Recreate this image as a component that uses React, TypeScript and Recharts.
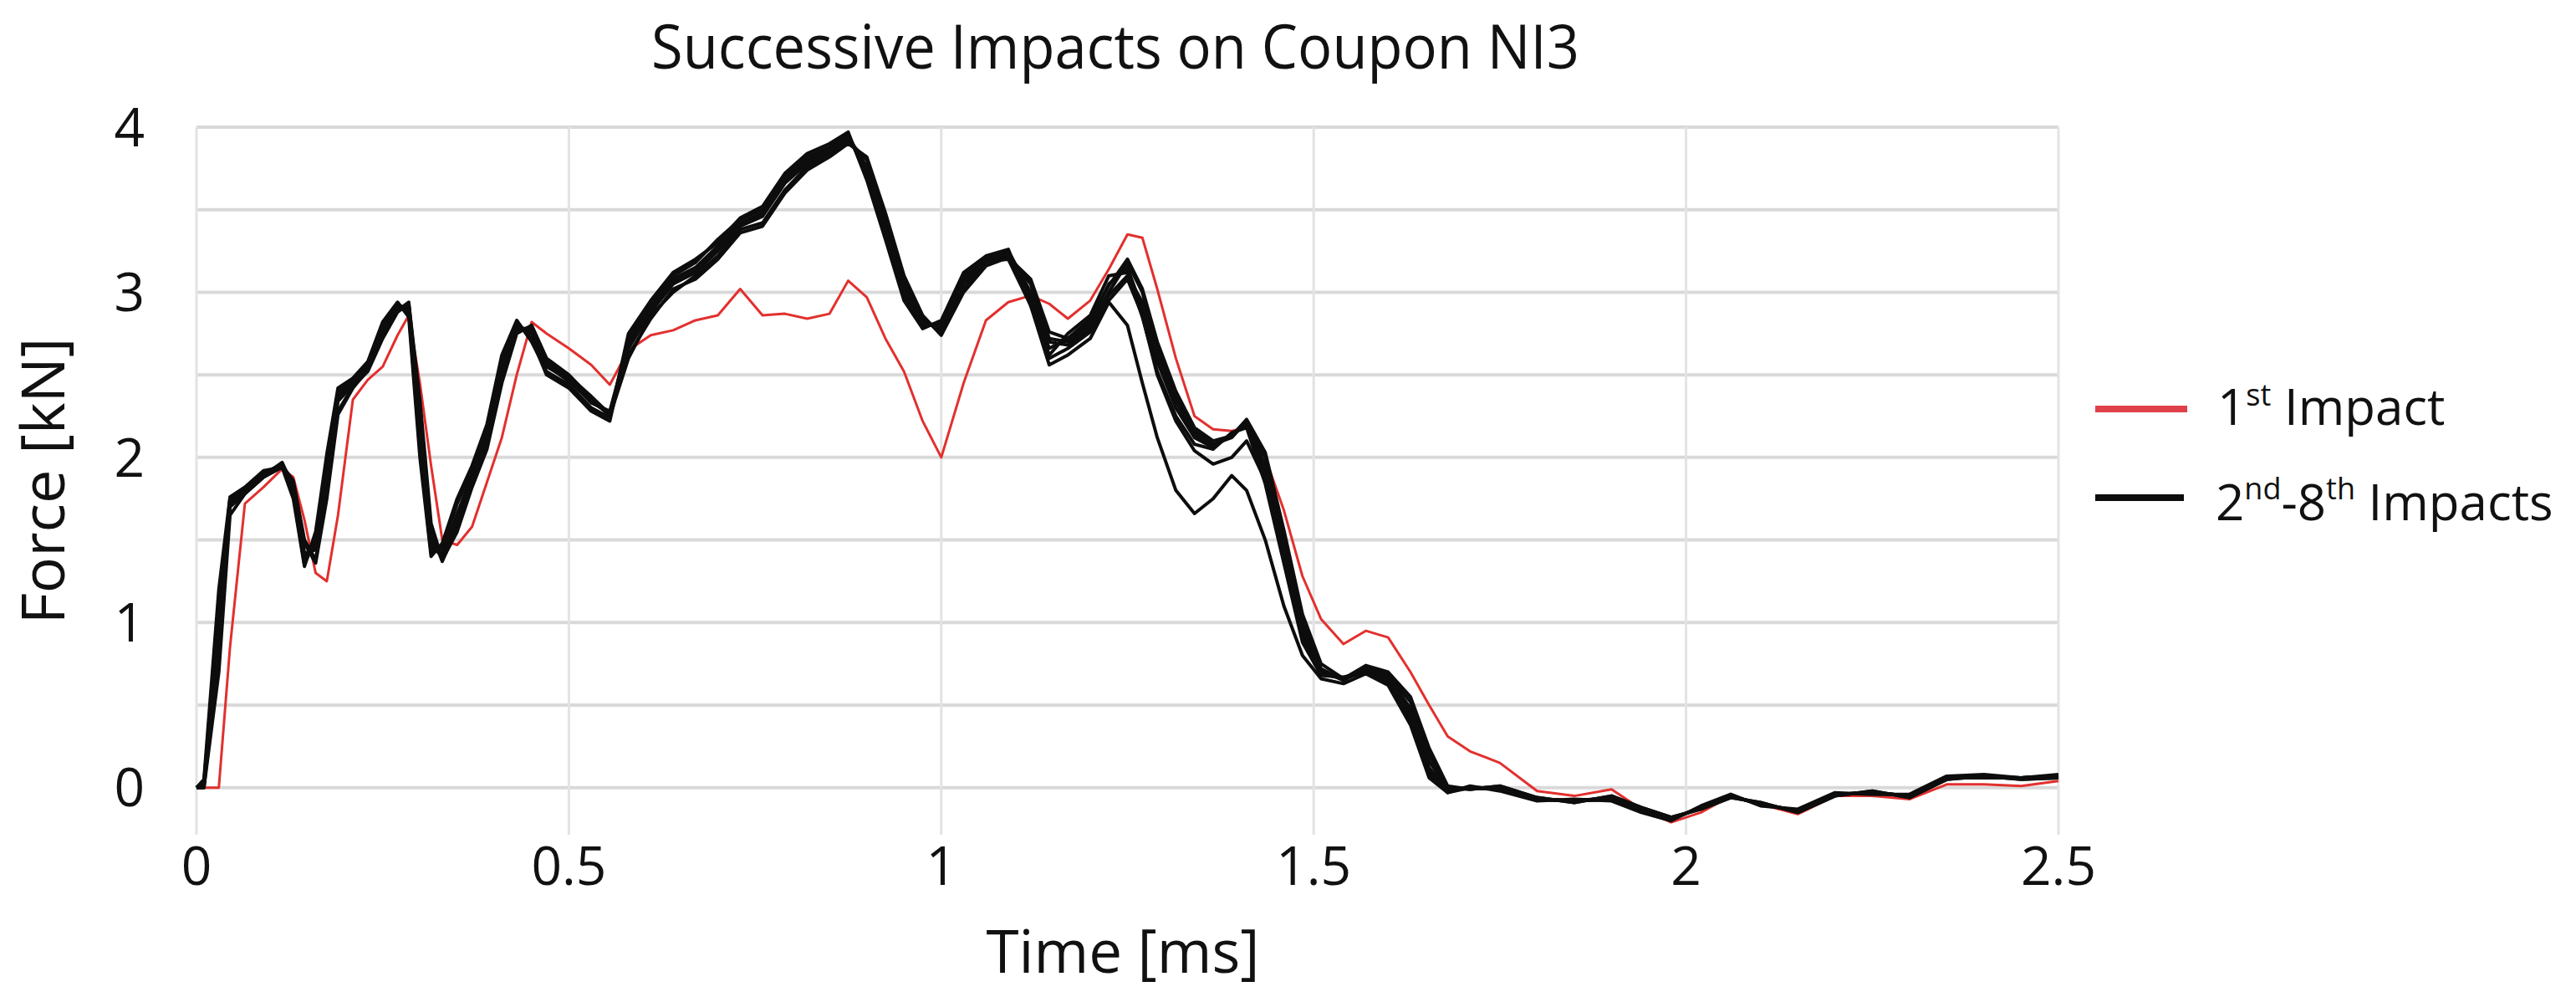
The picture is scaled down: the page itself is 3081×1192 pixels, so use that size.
import React from 'react';
import { LineChart, Line, XAxis, YAxis, CartesianGrid, Legend, Customized } from 'recharts';

// Sample times (ms) shared by every impact trace
const timeMs = [
  0, 0.01, 0.03, 0.045, 0.065, 0.09, 0.115, 0.13, 0.145, 0.16,
  0.175, 0.19, 0.21, 0.23, 0.25, 0.27, 0.285, 0.3, 0.315, 0.33,
  0.35, 0.37, 0.39, 0.41, 0.43, 0.45, 0.47, 0.5, 0.53, 0.555,
  0.58, 0.61, 0.64, 0.67, 0.7, 0.73, 0.76, 0.79, 0.82, 0.85,
  0.875, 0.9, 0.925, 0.95, 0.975, 1.0, 1.03, 1.06, 1.09, 1.12,
  1.145, 1.17, 1.2, 1.225, 1.25, 1.27, 1.29, 1.315, 1.34, 1.365,
  1.39, 1.41, 1.435, 1.46, 1.485, 1.51, 1.54, 1.57, 1.6, 1.63,
  1.655, 1.68, 1.71, 1.75, 1.8, 1.85, 1.9, 1.94, 1.98, 2.02,
  2.06, 2.1, 2.15, 2.2, 2.25, 2.3, 2.35, 2.4, 2.45, 2.5,
];

// Force (kN), first impact
const impact1 = [
  0, 0, 0, 0.85, 1.72, 1.82, 1.93, 1.88, 1.62, 1.3,
  1.25, 1.65, 2.35, 2.47, 2.55, 2.74, 2.86, 2.45, 1.95, 1.5,
  1.47, 1.58, 1.85, 2.12, 2.5, 2.82, 2.75, 2.66, 2.56, 2.44,
  2.65, 2.74, 2.77, 2.83, 2.86, 3.02, 2.86, 2.87, 2.84, 2.87,
  3.07, 2.97, 2.72, 2.52, 2.22, 2.0, 2.45, 2.83, 2.94, 2.98,
  2.93, 2.84, 2.95, 3.14, 3.35, 3.33, 3.02, 2.6, 2.25, 2.17,
  2.16, 2.18, 2.0, 1.68, 1.28, 1.02, 0.87, 0.95, 0.91, 0.7,
  0.5, 0.31, 0.22, 0.15, -0.02, -0.05, -0.01, -0.13, -0.21, -0.15,
  -0.05, -0.1, -0.16, -0.05, -0.05, -0.07, 0.02, 0.02, 0.01, 0.04,
];

// Force (kN), impacts 2 to 8
const impact2 = [
  0, 0.02, 1.05, 1.74, 1.8, 1.9, 1.96, 1.8, 1.36, 1.5,
  1.95, 2.38, 2.45, 2.55, 2.78, 2.92, 2.9, 2.1, 1.45, 1.42,
  1.65, 1.9, 2.12, 2.55, 2.8, 2.75, 2.55, 2.47, 2.33, 2.28,
  2.7, 2.9, 3.08, 3.15, 3.28, 3.42, 3.48, 3.68, 3.8, 3.87,
  3.95, 3.72, 3.38, 3.0, 2.8, 2.8, 3.08, 3.2, 3.24, 2.97,
  2.66, 2.72, 2.82, 3.05, 3.15, 2.9, 2.58, 2.3, 2.12, 2.06,
  2.14, 2.2, 1.9, 1.42, 0.92, 0.7, 0.66, 0.71, 0.66, 0.45,
  0.12, -0.02, 0.0, -0.01, -0.07, -0.08, -0.07, -0.14, -0.19, -0.12,
  -0.05, -0.1, -0.14, -0.04, -0.03, -0.05, 0.06, 0.06, 0.06, 0.07,
];
const impact3 = [
  0, 0, 0.7, 1.65, 1.78, 1.88, 1.95, 1.86, 1.5, 1.38,
  1.8, 2.28, 2.43, 2.52, 2.72, 2.88, 2.93, 2.35, 1.6, 1.38,
  1.55, 1.82, 2.05, 2.45, 2.75, 2.8, 2.6, 2.5, 2.36, 2.25,
  2.6, 2.86, 3.0, 3.1, 3.22, 3.38, 3.42, 3.62, 3.76, 3.84,
  3.92, 3.8, 3.45, 3.08, 2.84, 2.76, 3.02, 3.18, 3.22, 3.05,
  2.72, 2.7, 2.8, 3.0, 3.18, 3.0, 2.66, 2.38, 2.16, 2.08,
  2.12, 2.22, 2.0, 1.52, 1.0, 0.72, 0.65, 0.73, 0.68, 0.52,
  0.2, 0.0, -0.01, 0.01, -0.06, -0.09, -0.05, -0.12, -0.18, -0.13,
  -0.06, -0.09, -0.15, -0.05, -0.02, -0.06, 0.05, 0.07, 0.05, 0.06,
];
const impact4 = [
  0, 0.05, 1.2, 1.76, 1.82, 1.92, 1.94, 1.75, 1.34, 1.55,
  2.02, 2.42, 2.48, 2.58, 2.82, 2.94, 2.85, 2.0, 1.4, 1.48,
  1.75, 1.95, 2.2, 2.62, 2.83, 2.7, 2.52, 2.44, 2.3, 2.24,
  2.75, 2.95, 3.12, 3.2, 3.3, 3.45, 3.52, 3.72, 3.84, 3.9,
  3.97, 3.68, 3.32, 2.95, 2.78, 2.83, 3.12, 3.22, 3.26, 2.92,
  2.62, 2.75, 2.86, 3.1, 3.12, 2.85, 2.52, 2.25, 2.08, 2.05,
  2.15, 2.18, 1.84, 1.36, 0.88, 0.68, 0.67, 0.7, 0.64, 0.4,
  0.08, -0.03, 0.01, -0.02, -0.08, -0.07, -0.08, -0.15, -0.2, -0.11,
  -0.04, -0.11, -0.13, -0.03, -0.04, -0.04, 0.07, 0.08, 0.06, 0.08,
];
const impact5 = [
  0, 0.01, 0.95, 1.72, 1.79, 1.89, 1.97, 1.82, 1.42, 1.44,
  1.88, 2.34, 2.44, 2.54, 2.75, 2.9, 2.92, 2.2, 1.5, 1.39,
  1.62, 1.86, 2.1, 2.5, 2.78, 2.78, 2.58, 2.48, 2.35, 2.27,
  2.66, 2.88, 3.05, 3.12, 3.25, 3.4, 3.46, 3.66, 3.78, 3.86,
  3.94, 3.76, 3.42, 3.04, 2.82, 2.78, 3.05, 3.19, 3.25, 3.0,
  2.7, 2.68, 2.78, 2.98, 3.1, 2.94, 2.62, 2.34, 2.14, 2.07,
  2.13, 2.21, 1.95, 1.47, 0.96, 0.71, 0.65, 0.72, 0.67, 0.48,
  0.16, -0.01, 0.0, 0.0, -0.07, -0.08, -0.06, -0.13, -0.19, -0.12,
  -0.05, -0.1, -0.14, -0.04, -0.03, -0.05, 0.06, 0.07, 0.06, 0.07,
];
const impact6 = [
  0, 0.03, 1.1, 1.75, 1.81, 1.91, 1.95, 1.78, 1.35, 1.52,
  1.98, 2.4, 2.46, 2.57, 2.8, 2.93, 2.88, 2.05, 1.42, 1.45,
  1.72, 1.92, 2.15, 2.58, 2.82, 2.72, 2.5, 2.42, 2.28, 2.22,
  2.72, 2.92, 3.1, 3.18, 3.32, 3.44, 3.5, 3.7, 3.82, 3.88,
  3.96, 3.7, 3.35, 2.98, 2.79, 2.82, 3.1, 3.21, 3.23, 2.95,
  2.6, 2.66, 2.76, 2.95, 3.08, 2.86, 2.5, 2.22, 2.04, 1.96,
  2.0, 2.1, 1.86, 1.4, 0.9, 0.69, 0.66, 0.7, 0.65, 0.43,
  0.1, -0.02, 0.0, -0.01, -0.07, -0.08, -0.07, -0.14, -0.19, -0.12,
  -0.05, -0.1, -0.14, -0.04, -0.03, -0.05, 0.06, 0.06, 0.06, 0.07,
];
const impact7 = [
  0, 0.02, 1.0, 1.73, 1.8, 1.9, 1.96, 1.81, 1.4, 1.46,
  1.9, 2.36, 2.45, 2.55, 2.77, 2.91, 2.91, 2.15, 1.47, 1.4,
  1.66, 1.88, 2.11, 2.52, 2.79, 2.77, 2.56, 2.46, 2.34, 2.26,
  2.68, 2.89, 3.06, 3.13, 3.26, 3.41, 3.47, 3.67, 3.79, 3.86,
  3.95, 3.74, 3.4, 3.02, 2.81, 2.79, 3.06, 3.19, 3.2, 2.92,
  2.56, 2.62, 2.72, 2.94, 2.8, 2.45, 2.12, 1.8, 1.66, 1.75,
  1.89, 1.8, 1.5, 1.1, 0.8, 0.66, 0.63, 0.69, 0.62, 0.38,
  0.06, -0.03, 0.0, -0.01, -0.07, -0.08, -0.07, -0.14, -0.19, -0.12,
  -0.05, -0.1, -0.14, -0.04, -0.03, -0.05, 0.06, 0.06, 0.06, 0.07,
];
const impact8 = [
  0, 0, 0.85, 1.7, 1.78, 1.88, 1.94, 1.84, 1.48, 1.36,
  1.75, 2.26, 2.42, 2.53, 2.74, 2.89, 2.94, 2.28, 1.55, 1.37,
  1.58, 1.84, 2.08, 2.48, 2.76, 2.79, 2.59, 2.49, 2.37, 2.26,
  2.62, 2.84, 3.02, 3.08, 3.2, 3.36, 3.4, 3.6, 3.74, 3.82,
  3.9, 3.82, 3.48, 3.1, 2.86, 2.74, 3.0, 3.16, 3.21, 3.08,
  2.76, 2.72, 2.84, 3.04, 3.2, 3.02, 2.7, 2.4, 2.18, 2.1,
  2.13, 2.23, 2.03, 1.56, 1.05, 0.75, 0.66, 0.74, 0.7, 0.55,
  0.24, 0.01, -0.01, 0.01, -0.06, -0.09, -0.05, -0.12, -0.18, -0.13,
  -0.06, -0.09, -0.15, -0.05, -0.02, -0.06, 0.05, 0.07, 0.05, 0.06,
];

const xTicks = [0, 0.5, 1, 1.5, 2, 2.5];
const yTicks = [0, 1, 2, 3, 4];
const yGridValues = [0, 0.5, 1, 1.5, 2, 2.5, 3, 3.5, 4];

const laterImpacts = [impact2, impact3, impact4, impact5, impact6, impact7, impact8];

const data = timeMs.map((t, i) => {
  const row: Record<string, number> = { t, first: impact1[i] };
  laterImpacts.forEach((series, k) => {
    row[`later${k + 2}`] = series[i];
  });
  return row;
});

const FONT = "'Open Sans', 'DejaVu Sans', sans-serif";
const TEXT = '#111111';
const RED = '#e2302e';
const BLACK = '#0d0d0d';

const ChartTexts = () => (
  <g fontFamily={FONT} fill={TEXT} fontWeight={500}>
    <text x={1334} y={82} fontSize={73} textAnchor="middle" textLength={1110} lengthAdjust="spacingAndGlyphs">
      Successive Impacts on Coupon NI3
    </text>
    <text x={1343} y={1163} fontSize={71} textAnchor="middle">
      Time [ms]
    </text>
    <text transform="translate(77,575) rotate(-90)" fontSize={72} textAnchor="middle">
      Force [kN]
    </text>
  </g>
);

const LegendBox = () => (
  <svg width={591} height={240} style={{ display: 'block', overflow: 'visible' }}>
    <g fontFamily={FONT} fill={TEXT} fontSize={60} fontWeight={500}>
      <line x1={16} x2={126} y1={69} y2={69} stroke="#e0404a" strokeWidth={8} />
      <text x={162} y={88}>
        1<tspan fontSize={36} dy={-23}>st</tspan>
        <tspan dy={23}> Impact</tspan>
      </text>
      <line x1={16} x2={122} y1={175} y2={175} stroke={BLACK} strokeWidth={8} />
      <text x={160} y={202}>
        2<tspan fontSize={36} dy={-25}>nd</tspan>
        <tspan dy={25}>-8</tspan>
        <tspan fontSize={36} dy={-25}>th</tspan>
        <tspan dy={25}> Impacts</tspan>
      </text>
    </g>
  </svg>
);

export default function App() {
  return (
    <div style={{ position: 'absolute', left: 0, top: 0, width: 3081, height: 1192, background: '#ffffff' }}>
      <LineChart
        width={3081}
        height={1192}
        data={data}
        margin={{ top: 152, right: 619, bottom: 94, left: 135 }}
      >
        <CartesianGrid
          vertical={false}
          horizontalValues={yGridValues}
          stroke="#d9d9d9"
          strokeWidth={4}
        />
        <CartesianGrid
          horizontal={false}
          verticalValues={xTicks}
          stroke="#e3e3e3"
          strokeWidth={3}
        />
        <XAxis
          dataKey="t"
          type="number"
          domain={[0, 2.5]}
          ticks={xTicks}
          interval={0}
          axisLine={false}
          tickLine={false}
          tickSize={0}
          tickMargin={15}
          height={100}
          tick={{ fontSize: 64, fill: TEXT, fontFamily: FONT, fontWeight: 500 }}
        />
        <YAxis
          type="number"
          domain={[-0.285, 4]}
          allowDataOverflow
          ticks={yTicks}
          interval={0}
          axisLine={false}
          tickLine={false}
          tickSize={0}
          tickMargin={62}
          width={100}
          tick={{ fontSize: 64, fill: TEXT, fontFamily: FONT, fontWeight: 500 }}
        />
        <Line
          dataKey="first"
          stroke={RED}
          strokeWidth={3}
          dot={false}
          activeDot={false}
          isAnimationActive={false}
          strokeLinejoin="round"
        />
        {laterImpacts.map((_, k) => (
          <Line
            key={k}
            dataKey={`later${k + 2}`}
            stroke={BLACK}
            strokeWidth={4}
            dot={false}
            activeDot={false}
            isAnimationActive={false}
            strokeLinejoin="round"
          />
        ))}
        <Legend
          layout="vertical"
          align="center"
          verticalAlign="middle"
          wrapperStyle={{ left: 2490, top: 420, width: 591, height: 240 }}
          content={() => <LegendBox />}
        />
        <Customized component={ChartTexts} />
      </LineChart>
    </div>
  );
}
